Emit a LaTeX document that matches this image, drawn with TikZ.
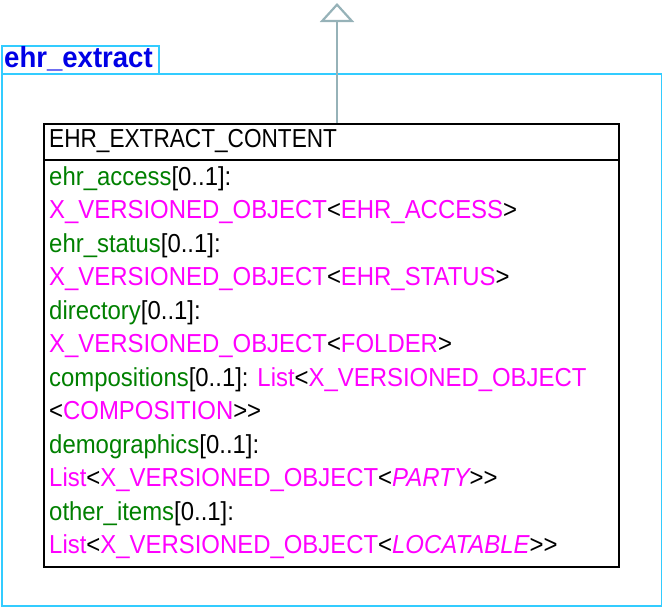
\documentclass[tikz,border=0pt]{standalone}
\usepackage{fontspec}
\setmainfont{Liberation Sans}
\newfontfamily\bodyfont[FakeStretch=0.92]{Liberation Sans}
\newfontfamily\titlefont[FakeStretch=0.87]{Liberation Sans}
\newfontfamily\pkgfont[FakeStretch=0.95]{Liberation Sans}
\usetikzlibrary{arrows.meta}
\definecolor{pkgcyan}{RGB}{51,204,255}
\definecolor{pkgblue}{RGB}{0,0,230}
\definecolor{attgreen}{RGB}{0,128,0}
\definecolor{typemag}{RGB}{255,0,255}
\definecolor{genarrow}{RGB}{150,178,184}
\newcommand\attn[1]{\textcolor{attgreen}{#1}}
\newcommand\typn[1]{\textcolor{typemag}{#1}}
\begin{document}
\begin{tikzpicture}[x=1pt,y=-1pt,
  pkgbox/.style={draw=pkgcyan, line width=2.2pt, inner sep=0pt, anchor=north west},
  classbox/.style={draw=black, line width=2.2pt, inner sep=0pt, anchor=north west},
  pkgtext/.style={anchor=base west, inner sep=0pt, text=pkgblue, font=\pkgfont\fontsize{29}{29}\selectfont\bfseries},
  titletext/.style={anchor=base west, inner sep=0pt, font=\titlefont\fontsize{26}{26}\selectfont},
  attr/.style={anchor=base west, inner sep=0pt, font=\bodyfont\fontsize{26}{26}\selectfont},
  genline/.style={draw=genarrow, line width=2.2pt, -{Triangle[open, length=19pt, width=34pt]}}
]
\useasboundingbox (0,0) rectangle (662,606);
% package
\node[pkgbox, minimum width=660pt, minimum height=532pt] (pkg) at (1,73) {};
\node[pkgbox, minimum width=157pt, minimum height=28pt] (tab) at (1,45) {};
\node[pkgtext] (pkgname) at (4,67) {ehr\_extract};
% class
\node[classbox, minimum width=575pt, minimum height=443pt] (cls) at (43,123) {};
\coordinate (sepy) at (0,160);
\draw[line width=2.2pt] (cls.west |- sepy) -- (cls.east |- sepy);
\node[titletext] (title) at (49,147) {EHR\_EXTRACT\_CONTENT};
% generalisation
\coordinate (gentip) at (337,3);
\draw[genline] (gentip |- cls.north) -- (gentip);
% attributes
\node[attr] (l1) at (49,185.0) {\attn{ehr\_access}[0..1]:};
\node[attr] (l2) at (49,218.5) {\typn{X\_VERSIONED\_OBJECT}<\typn{EHR\_ACCESS}>};
\node[attr] (l3) at (49,252.0) {\attn{ehr\_status}[0..1]:};
\node[attr] (l4) at (49,285.5) {\typn{X\_VERSIONED\_OBJECT}<\typn{EHR\_STATUS}>};
\node[attr] (l5) at (49,319.0) {\attn{directory}[0..1]:};
\node[attr] (l6) at (49,352.5) {\typn{X\_VERSIONED\_OBJECT}<\typn{FOLDER}>};
\node[attr] (l7) at (49,386.0) {\attn{compositions}[0..1]: \typn{List}<\typn{X\_VERSIONED\_OBJECT}};
\node[attr] (l8) at (49,419.5) {<\typn{COMPOSITION}>{}>};
\node[attr] (l9) at (49,453.0) {\attn{demographics}[0..1]:};
\node[attr] (l10) at (49,486.5) {\typn{List}<\typn{X\_VERSIONED\_OBJECT}<\typn{\itshape PARTY}>{}>};
\node[attr] (l11) at (49,520.0) {\attn{other\_items}[0..1]:};
\node[attr] (l12) at (49,553.5) {\typn{List}<\typn{X\_VERSIONED\_OBJECT}<\typn{\itshape LOCATABLE}>{}>};
\end{tikzpicture}
\end{document}
